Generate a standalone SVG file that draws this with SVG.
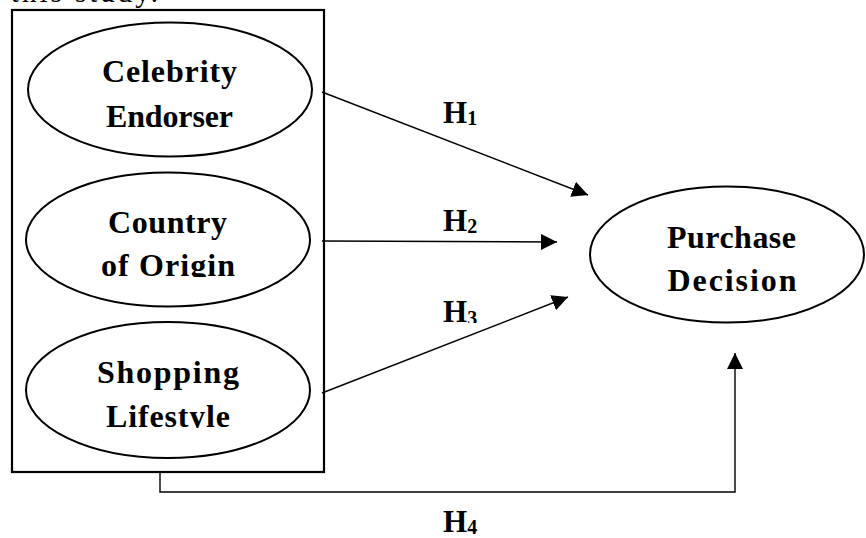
<svg xmlns="http://www.w3.org/2000/svg" width="866" height="538" viewBox="0 0 866 538">
<style>
.node{fill:#fff;stroke:#000;stroke-width:2}
.lbl{font-family:"Liberation Serif",serif;font-weight:bold;font-size:32px;fill:#000;text-anchor:middle}
.h{font-family:"Liberation Serif",serif;font-weight:bold;font-size:31px;fill:#000}
.sub{font-size:20px}
.conn{fill:none;stroke:#000;stroke-width:1.4}
</style>
<defs>
<marker id="arr" markerUnits="userSpaceOnUse" markerWidth="18" markerHeight="16" refX="16" refY="8" orient="auto">
<path d="M0,0 L16,8 L0,16 Z" fill="#000"/>
</marker>
<clipPath id="c1"><rect x="0" y="0" width="866" height="277"/></clipPath>
<clipPath id="c2"><rect x="0" y="0" width="866" height="428"/></clipPath>
<clipPath id="c3"><rect x="0" y="0" width="866" height="323"/></clipPath>
</defs>
<text x="158" y="2" text-anchor="end" font-family="'Liberation Serif',serif" font-size="29" textLength="170" lengthAdjust="spacing">r this study.</text>
<g id="box">
<rect x="12" y="10" width="312" height="462" fill="none" stroke="#000" stroke-width="2.2"/>
</g>
<g id="celebrity">
<ellipse class="node" cx="170" cy="89.5" rx="142" ry="67"/>
<text class="lbl" x="169.5" y="82" textLength="135" lengthAdjust="spacing">Celebrity</text>
<text class="lbl" x="169.5" y="127" textLength="127" lengthAdjust="spacing">Endorser</text>
</g>
<g id="country">
<ellipse class="node" cx="168" cy="239.5" rx="142" ry="67"/>
<text class="lbl" x="167.5" y="233" textLength="119" lengthAdjust="spacing">Country</text>
<text class="lbl" x="168" y="276" textLength="134" lengthAdjust="spacing" clip-path="url(#c1)">of Origin</text>
</g>
<g id="shopping">
<ellipse class="node" cx="168" cy="390" rx="142" ry="68"/>
<text class="lbl" x="168" y="383" textLength="142" lengthAdjust="spacing">Shopping</text>
<text class="lbl" x="168" y="427" textLength="124" lengthAdjust="spacing" clip-path="url(#c2)">Lifestyle</text>
</g>
<g id="purchase">
<ellipse class="node" cx="727" cy="254.5" rx="137" ry="68"/>
<text class="lbl" x="731.5" y="248" textLength="129" lengthAdjust="spacing">Purchase</text>
<text class="lbl" x="732" y="291" textLength="129" lengthAdjust="spacing">Decision</text>
</g>
<g id="connectors">
<line class="conn" x1="322" y1="92" x2="588" y2="195" marker-end="url(#arr)"/>
<line class="conn" x1="322" y1="241" x2="557" y2="242" marker-end="url(#arr)"/>
<line class="conn" x1="322" y1="393" x2="568" y2="297" marker-end="url(#arr)"/>
<polyline class="conn" points="160,472 160,492 735,492 735,353" marker-end="url(#arr)"/>
</g>
<g id="labels">
<text class="h" x="443" y="123">H<tspan class="sub" dy="2">1</tspan></text>
<text class="h" x="443" y="231">H<tspan class="sub" dy="2">2</tspan></text>
<text class="h" x="443" y="322" clip-path="url(#c3)">H<tspan class="sub" dy="3">3</tspan></text>
<text class="h" x="443" y="532">H<tspan class="sub" dy="2">4</tspan></text>
</g>
</svg>
